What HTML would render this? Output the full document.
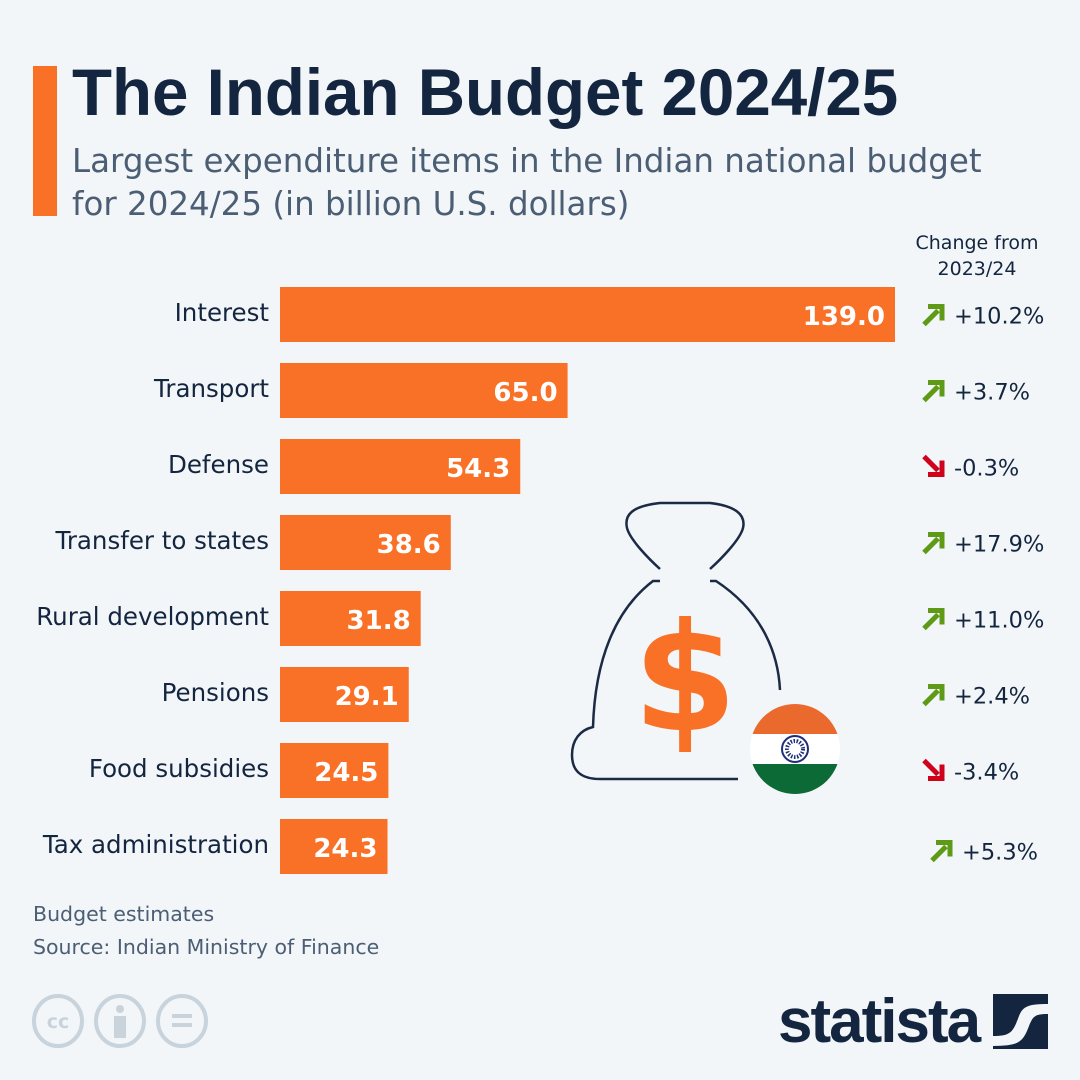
<!DOCTYPE html>
<html><head><meta charset="utf-8"><style>
body{margin:0;width:1080px;height:1080px;background:#f3f6f9;font-family:"DejaVu Sans","Liberation Sans",sans-serif;overflow:hidden;position:relative}
.t{position:absolute;white-space:nowrap}
</style></head><body>
<div style="position:absolute;left:33px;top:66px;width:24px;height:150px;background:#f97127"></div>
<div class="t" style="left:72px;top:55px;font-family:'Liberation Sans',sans-serif;font-size:65.5px;font-weight:bold;color:#13253f">The Indian Budget 2024/25</div>
<div class="t" style="left:72px;top:140px;font-size:32.5px;color:#4b5e74;line-height:43px">Largest expenditure items in the Indian national budget<br>for 2024/25 (in billion U.S. dollars)</div>
<div class="t" style="left:897px;top:230px;width:160px;text-align:center;font-size:19px;color:#13253f;line-height:26px">Change from<br>2023/24</div>
<svg id="chart" width="1080" height="1080" style="position:absolute;left:0;top:0">
<g fill="none" stroke="#1b2b45" stroke-width="2.5">
<path d="M660,569 C650,560 630,540 627,528 C624,515 632,506 660,503 L710,503 C736,506 746,515 743,528 C740,540 720,560 710,569"/>
<path d="M660,581 L653,581 C615,610 595,660 593,727 C580,730 572,740 572,755 C572,770 580,779 600,779 L738,779"/>
<path d="M710,581 L716,581 C760,610 778,650 780,690"/>
</g>
<text x="685" y="730" text-anchor="middle" font-size="150" font-weight="bold" fill="#f97127" font-family="DejaVu Sans, sans-serif">$</text>
<g>
<clipPath id="fc"><circle cx="795" cy="749" r="45"/></clipPath>
<g clip-path="url(#fc)"><rect x="750" y="704" width="90" height="30" fill="#ea6a2e"/><rect x="750" y="734" width="90" height="30" fill="#fff"/><rect x="750" y="764" width="90" height="31" fill="#0b6a35"/></g>
<circle cx="795" cy="749" r="13" fill="none" stroke="#1f2e7a" stroke-width="2"/><circle cx="795" cy="749" r="8" fill="none" stroke="#1f2e7a" stroke-width="4" stroke-dasharray="1.5 1.5"/>
</g>
</svg>
<div class="t" style="left:33px;top:902px;font-size:20.5px;color:#4b5e74">Budget estimates</div>
<div class="t" style="left:33px;top:935px;font-size:20.5px;color:#4b5e74">Source: Indian Ministry of Finance</div>
<svg style="position:absolute;left:30px;top:992px" width="190" height="60">
<g fill="none" stroke="#c9d3dc" stroke-width="4"><ellipse cx="28" cy="29" rx="24" ry="25"/><ellipse cx="90" cy="29" rx="24" ry="25"/><ellipse cx="152" cy="29" rx="24" ry="25"/></g>
<text x="28" y="36" text-anchor="middle" font-size="19" font-weight="bold" fill="#c9d3dc">cc</text>
<circle cx="90" cy="17" r="4" fill="#c9d3dc"/><rect x="84" y="24" width="12" height="22" fill="#c9d3dc"/>
<rect x="142" y="22" width="20" height="4" fill="#c9d3dc"/><rect x="142" y="31" width="20" height="4" fill="#c9d3dc"/>
</svg>
<div class="t" style="left:778px;top:986px;font-family:'Liberation Sans',sans-serif;font-size:62px;font-weight:bold;color:#13253f;letter-spacing:-2px;transform:scaleX(1.0);transform-origin:left">statista</div>
<svg style="position:absolute;left:993px;top:994px" width="55" height="55"><rect width="55" height="55" fill="#13253f"/><path d="M0,42 C18,42 20,38 26,22 C30,12 36,10 55,10 L55,20 C42,20 40,22 36,32 C30,48 26,52 0,52Z" fill="#f3f6f9"/></svg>
<script>
const categories=["Interest","Transport","Defense","Transfer to states","Rural development","Pensions","Food subsidies","Tax administration"];
const values=[139.0,65.0,54.3,38.6,31.8,29.1,24.5,24.3];
const changes=[10.2,3.7,-0.3,17.9,11.0,2.4,-3.4,5.3];
const svg=document.getElementById('chart');
const NS='http://www.w3.org/2000/svg';
const x0=280,pxPer=615/139;
function xs(v){return x0+v*pxPer;}
function yb(i){return 287+i*76;}
const bh=55;
categories.forEach((c,i)=>{
  const y=yb(i);
  const r=document.createElementNS(NS,'rect');
  r.setAttribute('x',x0);r.setAttribute('y',y);r.setAttribute('width',xs(values[i])-x0);r.setAttribute('height',bh);r.setAttribute('fill','#f97127');
  
  
  svg.appendChild(r);
  const v=document.createElementNS(NS,'text');
  v.setAttribute('x',xs(values[i])-10);v.setAttribute('y',y+38);v.setAttribute('text-anchor','end');
  v.setAttribute('font-size','26');v.setAttribute('font-weight','bold');v.setAttribute('fill','#fff');
  v.textContent=values[i].toFixed(1);
  
  
  svg.appendChild(v);
  const l=document.createElementNS(NS,'text');
  l.setAttribute('x',269);l.setAttribute('y',y+34);l.setAttribute('text-anchor','end');
  l.setAttribute('font-size','24.5');l.setAttribute('fill','#13253f');
  l.textContent=c;
  
  
  svg.appendChild(l);
  const off=(i===7)?8:0, dy=(i===7)?4:0;
  const cy=y+bh/2+dy, ax=922+off;
  const up=changes[i]>=0;
  const a=document.createElementNS(NS,'path');
  a.setAttribute('d',up?`M${ax+2},${cy+10} L${ax+16},${cy-4} M${ax+6},${cy-8} L${ax+20},${cy-8} L${ax+20},${cy+6}`:`M${ax+2},${cy-10} L${ax+16},${cy+4} M${ax+6},${cy+8} L${ax+20},${cy+8} L${ax+20},${cy-6}`);
  a.setAttribute('fill','none');a.setAttribute('stroke',up?'#5f9a17':'#d0021b');a.setAttribute('stroke-width','5');
  
  
  svg.appendChild(a);
  const t=document.createElementNS(NS,'text');
  t.setAttribute('x',ax+32);t.setAttribute('y',cy+9);t.setAttribute('font-size','22.5');t.setAttribute('fill','#13253f');
  t.textContent=(up?'+':'')+changes[i].toFixed(1)+'%';
  
  
  svg.appendChild(t);
});
</script>
</body></html>
